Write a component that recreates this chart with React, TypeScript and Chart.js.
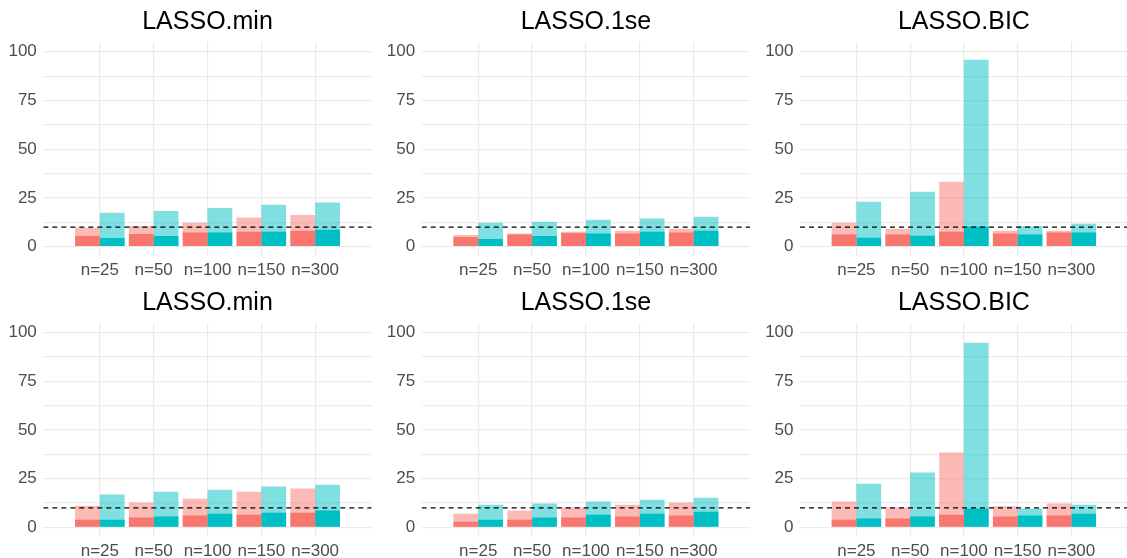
import React, { useEffect, useRef } from 'react';
import { Chart, registerables } from 'chart.js';

Chart.register(...registerables);

// ---------- data ----------
const CATEGORIES = ['n=25', 'n=50', 'n=100', 'n=150', 'n=300'];
const TITLES = ['LASSO.min', 'LASSO.1se', 'LASSO.BIC', 'LASSO.min', 'LASSO.1se', 'LASSO.BIC'];
const Y_TICKS = [0, 12.5, 25, 37.5, 50, 62.5, 75, 87.5, 100];
const Y_MIN = -5;
const Y_MAX = 105;
const THRESHOLD = 10;

// top row
const MIN1_RED_TOTAL = [9.7, 10.6, 12.3, 14.9, 16.2];
const MIN1_RED_PART = [5.5, 6.5, 7.2, 7.7, 8.2];
const MIN1_CYAN_TOTAL = [17.4, 18.3, 19.8, 21.5, 22.6];
const MIN1_CYAN_PART = [4.4, 5.5, 7.2, 7.7, 8.7];

const SE1_RED_TOTAL = [6.0, 6.7, 7.7, 8.2, 9.2];
const SE1_RED_PART = [5.0, 6.3, 7.0, 6.7, 7.2];
const SE1_CYAN_TOTAL = [12.3, 12.8, 13.8, 14.4, 15.4];
const SE1_CYAN_PART = [3.9, 5.5, 6.7, 7.7, 8.2];

const BIC1_RED_TOTAL = [12.3, 9.2, 33.3, 8.2, 8.2];
const BIC1_RED_PART = [6.2, 6.2, 7.7, 6.7, 7.2];
const BIC1_CYAN_TOTAL = [23.1, 28.2, 95.9, 10.6, 11.8];
const BIC1_CYAN_PART = [4.6, 5.6, 10.3, 6.2, 7.2];

// bottom row
const MIN2_RED_TOTAL = [11.1, 12.7, 14.7, 18.3, 19.9];
const MIN2_RED_PART = [3.9, 5.0, 6.0, 6.5, 7.5];
const MIN2_CYAN_TOTAL = [16.8, 18.3, 19.3, 20.9, 21.9];
const MIN2_CYAN_PART = [3.9, 5.5, 7.0, 7.5, 8.6];

const SE2_RED_TOTAL = [7.0, 8.6, 10.1, 11.6, 12.7];
const SE2_RED_PART = [2.9, 3.9, 5.0, 5.5, 6.0];
const SE2_CYAN_TOTAL = [11.6, 12.2, 13.2, 14.2, 15.2];
const SE2_CYAN_PART = [3.9, 5.0, 6.5, 7.0, 8.0];

const BIC2_RED_TOTAL = [13.2, 10.1, 38.4, 10.8, 12.2];
const BIC2_RED_PART = [3.9, 4.5, 6.5, 5.5, 6.0];
const BIC2_CYAN_TOTAL = [22.4, 28.1, 94.9, 9.6, 11.6];
const BIC2_CYAN_PART = [4.5, 5.5, 9.6, 6.0, 7.0];

// ---------- style ----------
const FONT = "'Liberation Sans', Arial, Helvetica, sans-serif";
const RED = '#F8766D';
const RED_LIGHT = 'rgba(248,118,109,0.5)';
const CYAN = '#00BFC4';
const CYAN_LIGHT = 'rgba(0,191,196,0.5)';
const GRID = '#EBEBEB';
const TICK_COLOR = '#4D4D4D';
const X_PAD = 1.05;
const X_MIN = 1 - X_PAD;
const X_MAX = CATEGORIES.length + X_PAD;

type PanelSpec = {
  title: string;
  redTotal: number[];
  redPart: number[];
  cyanTotal: number[];
  cyanPart: number[];
};

const PANELS: PanelSpec[] = [
  { title: TITLES[0], redTotal: MIN1_RED_TOTAL, redPart: MIN1_RED_PART, cyanTotal: MIN1_CYAN_TOTAL, cyanPart: MIN1_CYAN_PART },
  { title: TITLES[1], redTotal: SE1_RED_TOTAL, redPart: SE1_RED_PART, cyanTotal: SE1_CYAN_TOTAL, cyanPart: SE1_CYAN_PART },
  { title: TITLES[2], redTotal: BIC1_RED_TOTAL, redPart: BIC1_RED_PART, cyanTotal: BIC1_CYAN_TOTAL, cyanPart: BIC1_CYAN_PART },
  { title: TITLES[3], redTotal: MIN2_RED_TOTAL, redPart: MIN2_RED_PART, cyanTotal: MIN2_CYAN_TOTAL, cyanPart: MIN2_CYAN_PART },
  { title: TITLES[4], redTotal: SE2_RED_TOTAL, redPart: SE2_RED_PART, cyanTotal: SE2_CYAN_TOTAL, cyanPart: SE2_CYAN_PART },
  { title: TITLES[5], redTotal: BIC2_RED_TOTAL, redPart: BIC2_RED_PART, cyanTotal: BIC2_CYAN_TOTAL, cyanPart: BIC2_CYAN_PART },
];

const COLS = [
  { left: 0, width: 375, axisW: 43.3, padR: 3.3 },
  { left: 375, width: 376, axisW: 46.7, padR: 0.8 },
  { left: 751, width: 377, axisW: 49, padR: 0.2 },
];
const ROWS = [
  { top: 0, height: 279, xAxisH: 22.6 },
  { top: 281, height: 277, xAxisH: 21 },
];

type Col = (typeof COLS)[number];
type Row = (typeof ROWS)[number];

function Panel({ spec, col, row }: { spec: PanelSpec; col: Col; row: Row }) {
  const ref = useRef<HTMLCanvasElement>(null);

  useEffect(() => {
    if (!ref.current) return;
    const pts = (vals: number[]) => vals.map((v, i) => ({ x: i + 1, y: v }));
    const chart = new Chart(ref.current, {
      type: 'bar',
      data: {
        datasets: [
          {
            type: 'line',
            data: [
              { x: X_MIN, y: THRESHOLD },
              { x: X_MAX, y: THRESHOLD },
            ],
            borderColor: '#000000',
            borderWidth: 1.2,
            borderDash: [5, 4],
            pointRadius: 0,
            order: -1,
          } as any,
          { label: 'red part', data: pts(spec.redPart), backgroundColor: RED, stack: 'red' },
          { label: 'cyan part', data: pts(spec.cyanPart), backgroundColor: CYAN, stack: 'cyan' },
          { label: 'red total', data: pts(spec.redTotal), backgroundColor: RED_LIGHT, stack: 'red' },
          { label: 'cyan total', data: pts(spec.cyanTotal), backgroundColor: CYAN_LIGHT, stack: 'cyan' },
        ] as any,
      },
      options: {
        animation: false,
        responsive: false,
        devicePixelRatio: 1,
        layout: { padding: { left: 0, right: col.padR, top: 0, bottom: 0 } },
        datasets: {
          bar: { categoryPercentage: 0.92, barPercentage: 1, borderWidth: 0 },
        } as any,
        plugins: {
          legend: { display: false },
          tooltip: { enabled: false },
          title: {
            display: true,
            text: spec.title,
            fullSize: false,
            color: '#000000',
            font: { family: FONT, size: 25, weight: 'normal' as any },
            padding: { top: 7, bottom: 5 },
          },
        },
        scales: {
          x: {
            type: 'linear',
            min: X_MIN,
            max: X_MAX,
            offset: false,
            grid: { color: GRID, lineWidth: 1.2, drawTicks: false, offset: false },
            border: { display: false },
            afterBuildTicks: (s: any) => {
              s.ticks = CATEGORIES.map((_, i) => ({ value: i + 1 }));
            },
            afterFit: (s: any) => {
              s.height = row.xAxisH;
            },
            ticks: {
              autoSkip: false,
              maxRotation: 0,
              padding: 4,
              color: TICK_COLOR,
              font: { family: FONT, size: 17 },
              callback: (v: any) => CATEGORIES[Math.round(Number(v)) - 1] ?? '',
            },
          },
          y: {
            min: Y_MIN,
            max: Y_MAX,
            stacked: false,
            grid: { color: GRID, lineWidth: 1.2, drawTicks: false },
            border: { display: false },
            afterBuildTicks: (s: any) => {
              s.ticks = Y_TICKS.map((v) => ({ value: v }));
            },
            afterFit: (s: any) => {
              s.width = col.axisW;
            },
            ticks: {
              padding: 6.5,
              color: TICK_COLOR,
              font: { family: FONT, size: 17 },
              callback: (v: any) => (Number(v) % 25 === 0 ? String(v) : ''),
            },
          },
        },
      } as any,
    });
    return () => chart.destroy();
  }, [spec, col, row]);

  return (
    <canvas
      ref={ref}
      width={col.width}
      height={row.height}
      style={{
        position: 'absolute',
        left: col.left,
        top: row.top,
        width: col.width,
        height: row.height,
      }}
    />
  );
}

export default function App() {
  return (
    <div
      style={{
        position: 'absolute',
        left: 0,
        top: 0,
        width: 1127,
        height: 558,
        overflow: 'hidden',
        background: '#ffffff',
      }}
    >
      {PANELS.map((spec, i) => (
        <Panel key={i} spec={spec} col={COLS[i % 3]} row={ROWS[Math.floor(i / 3)]} />
      ))}
    </div>
  );
}
